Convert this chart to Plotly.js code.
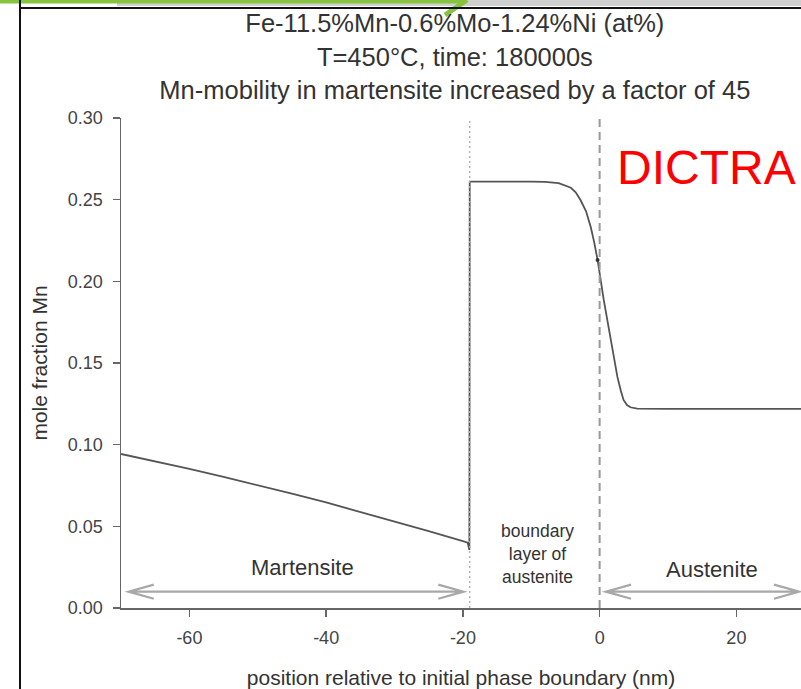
<!DOCTYPE html>
<html>
<head>
<meta charset="utf-8">
<script src="https://cdn.plot.ly/plotly-3.0.1.min.js"></script>
<style>html,body{margin:0;padding:0;background:#fff;}#chart{width:801px;height:689px;}</style>
</head>
<body>
<div id="chart"></div>
<script>
// ---- data ----
const martX = [-70, -65, -60, -55, -50, -45, -40, -35, -30, -25, -20, -19.3, -19.05];
const martY = [0.0943, 0.0898, 0.0852, 0.0803, 0.0753, 0.0700, 0.0646, 0.0589, 0.0532, 0.0471, 0.0409, 0.0400, 0.0355];
const austX = [-19, -10, -8, -6, -5, -4.2, -3.5, -2.8, -2, -1.3, -0.8, -0.3, 0.6, 1.6, 2.6, 3.1, 3.5, 4.0, 4.5, 5.5, 10, 29.45];
const austY = [0.261, 0.261, 0.2609, 0.2601, 0.2588, 0.2573, 0.2545, 0.2498, 0.2430, 0.2333, 0.2240, 0.2131, 0.1886, 0.1641, 0.1415, 0.1330, 0.1274, 0.1243, 0.1229, 0.1221, 0.1219, 0.1219];
const markX = [-0.3];
const markY = [0.2131];
const xTicks = [-60, -40, -20, 0, 20];
const yTicks = [0.00, 0.05, 0.10, 0.15, 0.20, 0.25, 0.30];
const xRange = [-70, 29.45];
const yRange = [0, 0.30];
const boundaryPos = -19;     // dotted line
const interfacePos = 0;      // dashed line
const martArrow = [-68.9, -19.9];
const austArrow = [0.9, 29.2];
const arrowY = 0.0100;
const titleLines = ["Fe-11.5%Mn-0.6%Mo-1.24%Ni (at%)", "T=450°C, time: 180000s", "Mn-mobility in martensite increased by a factor of 45"];
const labels = [
  {text: "Martensite", x: -43.4, y: 0.0245, size: 22},
  {text: "Austenite", x: 16.5, y: 0.0233, size: 22},
  {text: "boundary<br>layer of<br>austenite", x: -9.1, y: 0.033, size: 17.5}
];

const FONT = "Liberation Sans, Arial, sans-serif";

function arrowPath(a, y) {
  const hx = 3.7, hy = 0.0043;
  const x0 = a[0], x1 = a[1];
  return `M ${x0},${y} L ${x1},${y} ` +
    `M ${x0 + hx},${y + hy} L ${x0},${y} L ${x0 + hx},${y - hy} ` +
    `M ${x1 - hx},${y + hy} L ${x1},${y} L ${x1 - hx},${y - hy}`;
}

const traces = [
  {x: martX.concat(austX), y: martY.concat(austY), mode: 'lines', type: 'scatter',
   line: {color: '#555', width: 1.8}, hoverinfo: 'skip', showlegend: false},
  {x: markX, y: markY, mode: 'markers', type: 'scatter',
   marker: {color: '#333', size: 4}, hoverinfo: 'skip', showlegend: false}
];

const shapes = [
  {type: 'line', xref: 'x', yref: 'paper', x0: boundaryPos, x1: boundaryPos, y0: 0, y1: 1,
   line: {color: '#aaa', width: 1.3, dash: '2px,3px'}},
  {type: 'line', xref: 'x', yref: 'paper', x0: interfacePos, x1: interfacePos, y0: 0, y1: 1,
   line: {color: '#999', width: 2, dash: '8px,5px'}},
  {type: 'path', xref: 'x', yref: 'y', path: arrowPath(martArrow, arrowY), line: {color: '#a8a8a8', width: 2.2}},
  {type: 'path', xref: 'x', yref: 'y', path: arrowPath(austArrow, arrowY), line: {color: '#a8a8a8', width: 2.2}},
  // screenshot frame decorations
  {type: 'rect', xref: 'paper', yref: 'paper', x0: (117-121)/680, x1: (801-121)/680, y0: (608-0)/490, y1: (608-6)/490,
   fillcolor: '#cfcfcf', line: {width: 0}},
  {type: 'line', xref: 'paper', yref: 'paper', x0: (0-121)/680, x1: (466-121)/680, y0: (608-1.5)/490, y1: (608-1.5)/490,
   line: {color: '#86c440', width: 4}},
  {type: 'line', xref: 'paper', yref: 'paper', x0: (467-121)/680, x1: (445-121)/680, y0: (608-0)/490, y1: (608-15)/490,
   line: {color: '#86c440', width: 5}},
  {type: 'line', xref: 'paper', yref: 'paper', x0: (20-121)/680, x1: (20-121)/680, y0: (608-0)/490, y1: (608-689)/490,
   line: {color: '#111', width: 2}},
  {type: 'line', xref: 'paper', yref: 'paper', x0: (20-121)/680, x1: (801-121)/680, y0: (608-8)/490, y1: (608-8)/490,
   line: {color: '#111', width: 2}}
];

const annotations = labels.map(l => ({
  text: l.text, x: l.x, y: l.y, xref: 'x', yref: 'y', showarrow: false,
  font: {family: FONT, size: l.size, color: '#333'}, align: 'center'
}));
annotations.push({
  text: 'DICTRA', x: 15.6, y: 0.2694, xref: 'x', yref: 'y', showarrow: false,
  font: {family: FONT, size: 48, color: '#ff0000'}
});

const layout = {
  width: 801, height: 689,
  margin: {l: 121, r: 0, t: 118, b: 81},
  paper_bgcolor: '#fff', plot_bgcolor: '#fff',
  showlegend: false,
  title: {
    text: titleLines.join('<br>'),
    font: {family: FONT, size: 25.5, color: '#333'},
    xref: 'paper', x: 0.491, xanchor: 'center',
    yref: 'container', y: 0.953, yanchor: 'top'
  },
  xaxis: {
    range: xRange, tickvals: xTicks, ticktext: xTicks.map(String),
    showgrid: false, zeroline: false, showline: true, linecolor: '#666', linewidth: 1.5,
    ticks: 'outside', ticklen: 7, tickwidth: 1.5, tickcolor: '#666',
    ticklabelstandoff: 6,
    tickfont: {family: FONT, size: 18, color: '#444'},
    title: {text: 'position relative to initial phase boundary (nm)', font: {family: FONT, size: 21, color: '#333'}, standoff: 25},
    fixedrange: true
  },
  yaxis: {
    range: yRange, tickvals: yTicks, ticktext: yTicks.map(v => v.toFixed(2)),
    showgrid: false, zeroline: false, showline: true, linecolor: '#666', linewidth: 1.5,
    ticks: 'outside', ticklen: 7, tickwidth: 1.5, tickcolor: '#666',
    ticklabelstandoff: 6,
    tickfont: {family: FONT, size: 18, color: '#444'},
    title: {text: 'mole fraction Mn', font: {family: FONT, size: 21, color: '#333'}, standoff: 14},
    fixedrange: true
  },
  shapes: shapes,
  annotations: annotations
};

Plotly.newPlot('chart', traces, layout, {displayModeBar: false, staticPlot: true});
</script>
</body>
</html>
